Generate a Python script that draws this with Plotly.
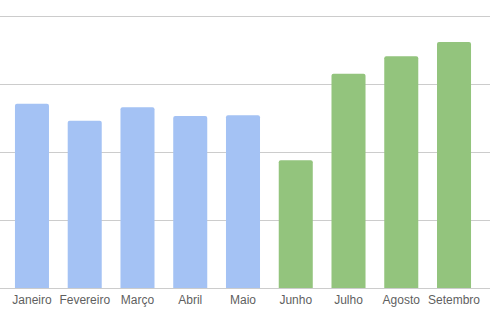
import plotly.graph_objects as go

months = ["Janeiro", "Fevereiro", "Março", "Abril", "Maio", "Junho", "Julho", "Agosto", "Setembro"]
values = [2.71, 2.46, 2.66, 2.53, 2.54, 1.88, 3.15, 3.41, 3.62]
colors = ["#a4c2f4"] * 5 + ["#93c47d"] * 4

fig = go.Figure(go.Bar(x=months, y=values, marker=dict(color=colors, line=dict(width=0)), width=0.645))

fig.update_layout(
    width=496, height=324,
    margin=dict(l=0, r=6, t=14, b=36),
    plot_bgcolor="white", paper_bgcolor="white",
    barcornerradius=2,
    showlegend=False,
    font=dict(family="Liberation Sans, Arial", size=12, color="#5f5f5f"),
)
fig.update_xaxes(range=[-0.606, 8.682], showgrid=False, showline=False, ticks="", ticklabelstandoff=3,
                 tickfont=dict(size=12, color="#5f5f5f"))
fig.update_yaxes(range=[0, 4.03], tickvals=[1, 2, 3, 4], showticklabels=False, showgrid=True, gridcolor="#cccccc", gridwidth=1,
                 zeroline=True, zerolinecolor="#cccccc", zerolinewidth=1)

fig.write_html("out.html")
